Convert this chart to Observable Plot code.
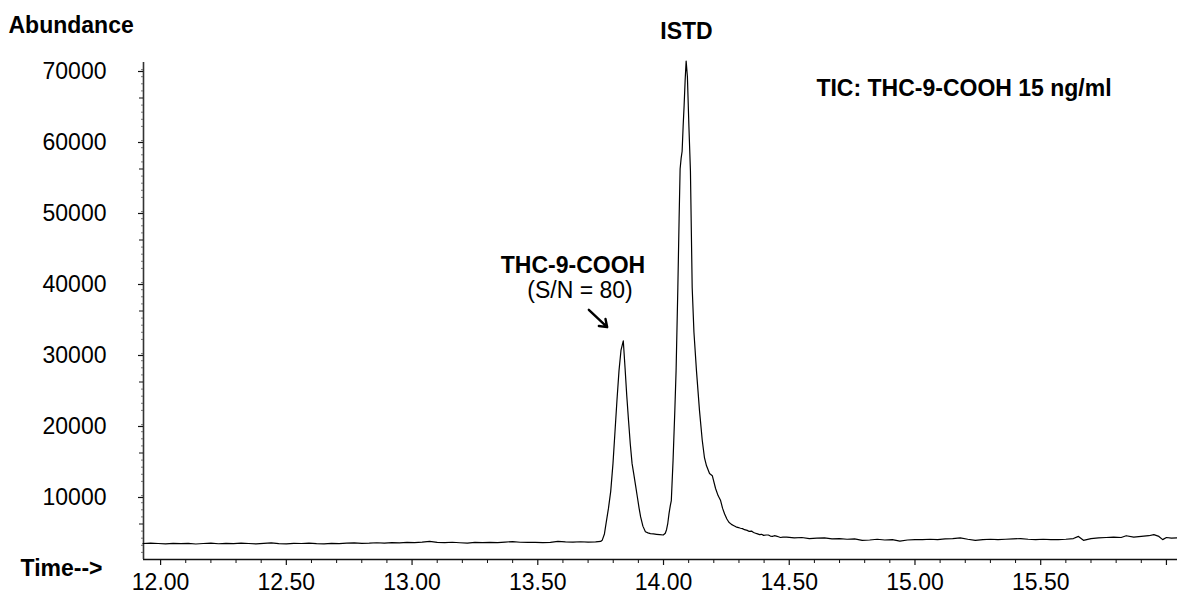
<!DOCTYPE html>
<html>
<head>
<meta charset="utf-8">
<script src="https://cdn.jsdelivr.net/npm/d3@7"></script>
<script src="https://cdn.jsdelivr.net/npm/@observablehq/plot@0.6"></script>
<style>
  html, body { margin: 0; padding: 0; background: #fff; }
  svg { display: block; }
</style>
</head>
<body>
<div id="chart"></div>
<script>
// Retention time (min)
const time = [
  11.93, 11.96, 11.99, 12.02, 12.05, 12.08, 12.11, 12.14, 12.17, 12.20,
  12.23, 12.26, 12.29, 12.32, 12.35, 12.38, 12.41, 12.44, 12.47, 12.50,
  12.53, 12.56, 12.59, 12.62, 12.65, 12.68, 12.71, 12.74, 12.77, 12.80,
  12.83, 12.86, 12.89, 12.92, 12.95, 12.98, 13.01, 13.04, 13.07, 13.10,
  13.13, 13.16, 13.19, 13.22, 13.25, 13.28, 13.31, 13.34, 13.37, 13.40,
  13.43, 13.46, 13.49, 13.52, 13.55, 13.58, 13.61, 13.64, 13.67, 13.70,
  13.73, 13.75,
  13.756, 13.765, 13.772, 13.781, 13.790, 13.799, 13.807, 13.815, 13.823, 13.831,
  13.840, 13.847, 13.854, 13.861, 13.868, 13.875, 13.881, 13.889, 13.896, 13.903,
  13.909, 13.918, 13.928, 13.938, 13.948, 13.960, 13.972, 13.985, 13.999, 14.007,
  14.012, 14.017, 14.022, 14.027, 14.031, 14.038, 14.045, 14.050, 14.057, 14.062,
  14.066, 14.070, 14.074, 14.078, 14.082, 14.086, 14.090, 14.095, 14.101, 14.107,
  14.114, 14.121, 14.131, 14.143, 14.154, 14.163, 14.171, 14.183, 14.194, 14.207,
  14.217, 14.227, 14.235, 14.243, 14.252, 14.260, 14.270, 14.278, 14.288, 14.298,
  14.306, 14.314, 14.322, 14.333, 14.341, 14.350, 14.358, 14.366, 14.374, 14.382,
  14.390, 14.398, 14.408, 14.417, 14.425, 14.433, 14.441, 14.449, 14.457, 14.465,
  14.475,
  14.49, 14.52, 14.55, 14.58, 14.61, 14.64, 14.67, 14.70, 14.73, 14.76,
  14.79, 14.82, 14.85, 14.88, 14.91, 14.94, 14.97, 15.00, 15.03, 15.06,
  15.09, 15.12, 15.15, 15.18, 15.21, 15.24, 15.27, 15.30, 15.33, 15.36,
  15.39, 15.42, 15.45, 15.48, 15.51, 15.54, 15.57, 15.60, 15.63, 15.65,
  15.67, 15.70, 15.73, 15.76, 15.79, 15.82, 15.84, 15.87, 15.90, 15.93,
  15.95, 15.97, 15.985, 16.00, 16.02, 16.044
];

// Total ion current abundance
const abundance = [
  2250, 2300, 2250, 2200, 2280, 2230, 2260, 2180, 2250, 2300,
  2220, 2270, 2240, 2300, 2250, 2200, 2260, 2330, 2240, 2210,
  2270, 2250, 2310, 2230, 2190, 2260, 2240, 2300, 2330, 2270,
  2300, 2360, 2320, 2380, 2350, 2420, 2380, 2450, 2550, 2420,
  2380, 2430, 2360, 2300, 2400, 2380, 2420, 2390, 2460, 2520,
  2430, 2400, 2420, 2380, 2420, 2560, 2480, 2450, 2500, 2440,
  2470, 2550,
  2700, 3600, 5200, 7200, 9600, 13500, 18000, 22500, 26600, 29500,
  30800, 27000, 23000, 19500, 16200, 13500, 12200, 10400, 8800, 7200,
  6000, 4700, 3900, 3750, 3650, 3600, 3550, 3500, 3450, 3700,
  4200, 5100, 6500, 7600, 8300, 14000, 21000, 26600, 38300, 48000,
  55000, 56500, 57500, 61000, 64000, 67500, 70200, 68000, 61000, 54800,
  38300, 32000, 26600, 21000, 16800, 14300, 13200, 12100, 11800, 10000,
  9000, 8300, 7200, 6400, 5700, 5250, 4950, 4800, 4600, 4500,
  4400, 4350, 4200, 4100, 3950, 4000, 3800, 3700, 3600, 3500,
  3550, 3400, 3450, 3450, 3300, 3250, 3350, 3300, 3200, 3100,
  3150,
  3150, 3050, 3100, 2950, 3000, 3050, 2900, 2950, 2850, 2900,
  2700, 2750, 2850, 2750, 2800, 2600, 2750, 2800, 2800, 2850,
  2800, 2900, 2950, 3050, 2850, 2700, 2800, 2850, 2800, 2850,
  2900, 2950, 2850, 2800, 2850, 2800, 2800, 2850, 2950, 3250,
  2700, 2950, 3050, 3100, 3150, 3100, 3350, 3150, 3250, 3350,
  3500, 3250, 2800, 3100, 3000, 3050
];

// Axis ticks
const xDomain = [11.932, 16.044];
const yDomain = [0, 70000];
const xLabelTicks = [12.0, 12.5, 13.0, 13.5, 14.0, 14.5, 15.0, 15.5, 16.0];
const xMinorTicks = [12.1, 12.2, 12.3, 12.4, 12.6, 12.7, 12.8, 12.9, 13.1, 13.2, 13.3, 13.4,
  13.6, 13.7, 13.8, 13.9, 14.1, 14.2, 14.3, 14.4, 14.6, 14.7, 14.8, 14.9, 15.1, 15.2, 15.3, 15.4,
  15.6, 15.7, 15.8, 15.9];
const yLabelTicks = [10000, 20000, 30000, 40000, 50000, 60000, 70000];
const yMinorTicks = [5000, 15000, 25000, 35000, 45000, 55000, 65000];
const yFineTicks = [1000, 2000, 3000, 4000, 6000, 7000, 8000, 9000, 11000, 12000, 13000, 14000,
  16000, 17000, 18000, 19000, 21000, 22000, 23000, 24000, 26000, 27000, 28000, 29000,
  31000, 32000, 33000, 34000, 36000, 37000, 38000, 39000, 41000, 42000, 43000, 44000,
  46000, 47000, 48000, 49000, 51000, 52000, 53000, 54000, 56000, 57000, 58000, 59000,
  61000, 62000, 63000, 64000, 66000, 67000, 68000, 69000];

// Annotations (positioned in chart units)
const boldLabels = ["ISTD", "THC-9-COOH"];
const boldLabelTime = [14.0915, 13.64];
const boldLabelAbundance = [73240, 40400];
const snLabel = ["(S/N = 80)"];
const snTime = [13.668];
const snAbundance = [36900];
const ticLabel = ["TIC: THC-9-COOH 15 ng/ml"];
const ticTime = [14.608];
const ticAbundance = [65350];
const arrowStart = {time: 13.703, abundance: 35170};
const arrowEnd = {time: 13.776, abundance: 32720};

const series = time.map((t, i) => ({time: t, abundance: abundance[i]}));
const bold = boldLabels.map((s, i) => ({text: s, time: boldLabelTime[i], abundance: boldLabelAbundance[i]}));
const sn = snLabel.map((s, i) => ({text: s, time: snTime[i], abundance: snAbundance[i]}));
const tic = ticLabel.map((s, i) => ({text: s, time: ticTime[i], abundance: ticAbundance[i]}));

const FONT = "'Liberation Sans', Arial, Helvetica, sans-serif";

const chart = Plot.plot({
  width: 1177,
  height: 592,
  marginLeft: 143,
  marginRight: 0,
  marginTop: 62,
  marginBottom: 33,
  style: {fontFamily: FONT, fontSize: "23px", color: "#000", background: "#fff", overflow: "visible"},
  x: {domain: xDomain, axis: null},
  y: {domain: yDomain, axis: null},
  marks: [
    // axis lines
    Plot.ruleY([0], {stroke: "#111", strokeWidth: 1.5}),
    Plot.ruleX([xDomain[0]], {stroke: "#333", strokeWidth: 1.6}),
    // x axis
    Plot.axisX({ticks: xLabelTicks, anchor: "bottom", tickSize: 6, tickPadding: 8, fontSize: 23,
      stroke: "#111", strokeWidth: 1.2,
      tickFormat: d => d >= 16 ? "" : d.toFixed(2)}),
    Plot.axisX({ticks: xMinorTicks, anchor: "bottom", tickSize: 4, stroke: "#111", strokeWidth: 1,
      tickFormat: () => ""}),
    // y axis
    Plot.axisY({ticks: yLabelTicks, anchor: "left", tickSize: 5, tickPadding: 32, dy: 9, fontSize: 23,
      stroke: "#111", strokeWidth: 1.2,
      tickFormat: d3.format("d")}),
    Plot.axisY({ticks: yMinorTicks, anchor: "left", tickSize: 4, stroke: "#111", strokeWidth: 1,
      tickFormat: () => ""}),
    Plot.axisY({ticks: yFineTicks, anchor: "left", tickSize: 2, stroke: "#555", strokeWidth: 0.8,
      tickFormat: () => ""}),
    // chromatogram trace
    Plot.line(series, {x: "time", y: "abundance", stroke: "#000", strokeWidth: 1.2, curve: "linear"}),
    // annotations
    Plot.text(bold, {x: "time", y: "abundance", text: "text", fontWeight: "bold", fontSize: 23,
      textAnchor: "middle", lineAnchor: "bottom", fill: "#000"}),
    Plot.text(sn, {x: "time", y: "abundance", text: "text", fontSize: 23,
      textAnchor: "middle", lineAnchor: "bottom", fill: "#000"}),
    Plot.text(tic, {x: "time", y: "abundance", text: "text", fontWeight: "bold", fontSize: 23,
      textAnchor: "start", lineAnchor: "bottom", fill: "#000"}),
    Plot.arrow([{x1: arrowStart.time, y1: arrowStart.abundance, x2: arrowEnd.time, y2: arrowEnd.abundance}],
      {x1: "x1", y1: "y1", x2: "x2", y2: "y2", stroke: "#000", strokeWidth: 2.4, headLength: 9, headAngle: 70}),
    // axis titles
    Plot.text(["Abundance"], {frameAnchor: "top-left", dx: -135, dy: -30, fontWeight: "bold", fontSize: 23,
      textAnchor: "start", lineAnchor: "bottom", fill: "#000"}),
    Plot.text(["Time-->"], {frameAnchor: "bottom-left", dx: -123, dy: 16, fontWeight: "bold", fontSize: 23,
      textAnchor: "start", lineAnchor: "bottom", fill: "#000"})
  ]
});

document.getElementById("chart").appendChild(chart);
</script>
</body>
</html>
